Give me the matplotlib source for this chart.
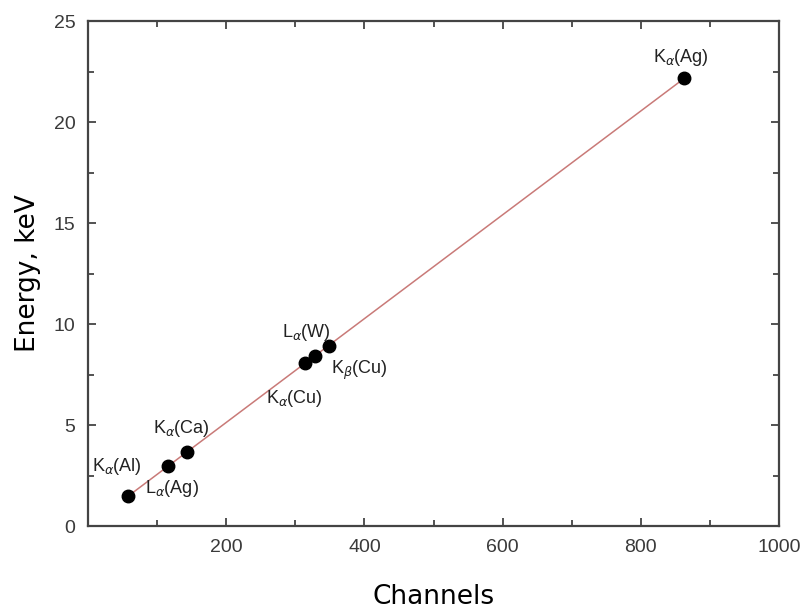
import numpy as np
import matplotlib.pyplot as plt
from matplotlib.ticker import MultipleLocator

# калибровочные линии: канал -> энергия
channels = [58, 116, 143, 314, 328, 348, 862]
energy = [1.49, 2.98, 3.69, 8.05, 8.40, 8.90, 22.16]
names = [r'K$_\alpha$(Al)', r'L$_\alpha$(Ag)', r'K$_\alpha$(Ca)', r'K$_\alpha$(Cu)',
         r'L$_\alpha$(W)', r'K$_\beta$(Cu)', r'K$_\alpha$(Ag)']
label_x = [42, 122, 135, 299, 316, 393, 858]
label_y = [2.97, 1.88, 4.85, 6.3, 9.6, 7.7, 23.2]

fig = plt.figure(figsize=(8.04, 6.11), dpi=100)
ax = fig.add_axes([0.1095, 0.139, 0.8595, 0.8266])

# линейная аппроксимация
k, b = np.polyfit(channels, energy, 1)
xf = np.array([min(channels), max(channels)])
ax.plot(xf, k * xf + b, color='#c97a78', lw=1.1, zorder=2)
ax.plot(channels, energy, 'o', color='black', ms=9, zorder=3)

for name, tx, ty in zip(names, label_x, label_y):
    ax.text(tx, ty, name, ha='center', va='center', fontsize=13,
            color='#222222', family='Liberation Sans')

ax.set_xlim(0, 1000)
ax.set_ylim(0, 25)
ax.set_xticks([200, 400, 600, 800, 1000])
ax.xaxis.set_minor_locator(MultipleLocator(100))
ax.set_yticks([0, 5, 10, 15, 20, 25])
ax.yaxis.set_minor_locator(MultipleLocator(2.5))
ax.tick_params(which='both', direction='in', top=True, right=True,
               color='#444444', width=1.3, labelcolor='#3a3a3a',
               labelsize=14, pad=9)
ax.tick_params(which='major', length=6)
ax.tick_params(which='minor', length=4)
for lab in ax.get_xticklabels() + ax.get_yticklabels():
    lab.set_family('Liberation Sans')
for sp in ax.spines.values():
    sp.set_color('#444444')
    sp.set_linewidth(1.6)

ax.set_xlabel('Channels', fontsize=19, family='DejaVu Sans', va='center')
ax.set_ylabel('Energy, keV', fontsize=19, family='DejaVu Sans', va='center')
ax.xaxis.set_label_coords(0.5, -0.141)
ax.yaxis.set_label_coords(-0.087, 0.5)

plt.savefig('out.png', dpi=100)
